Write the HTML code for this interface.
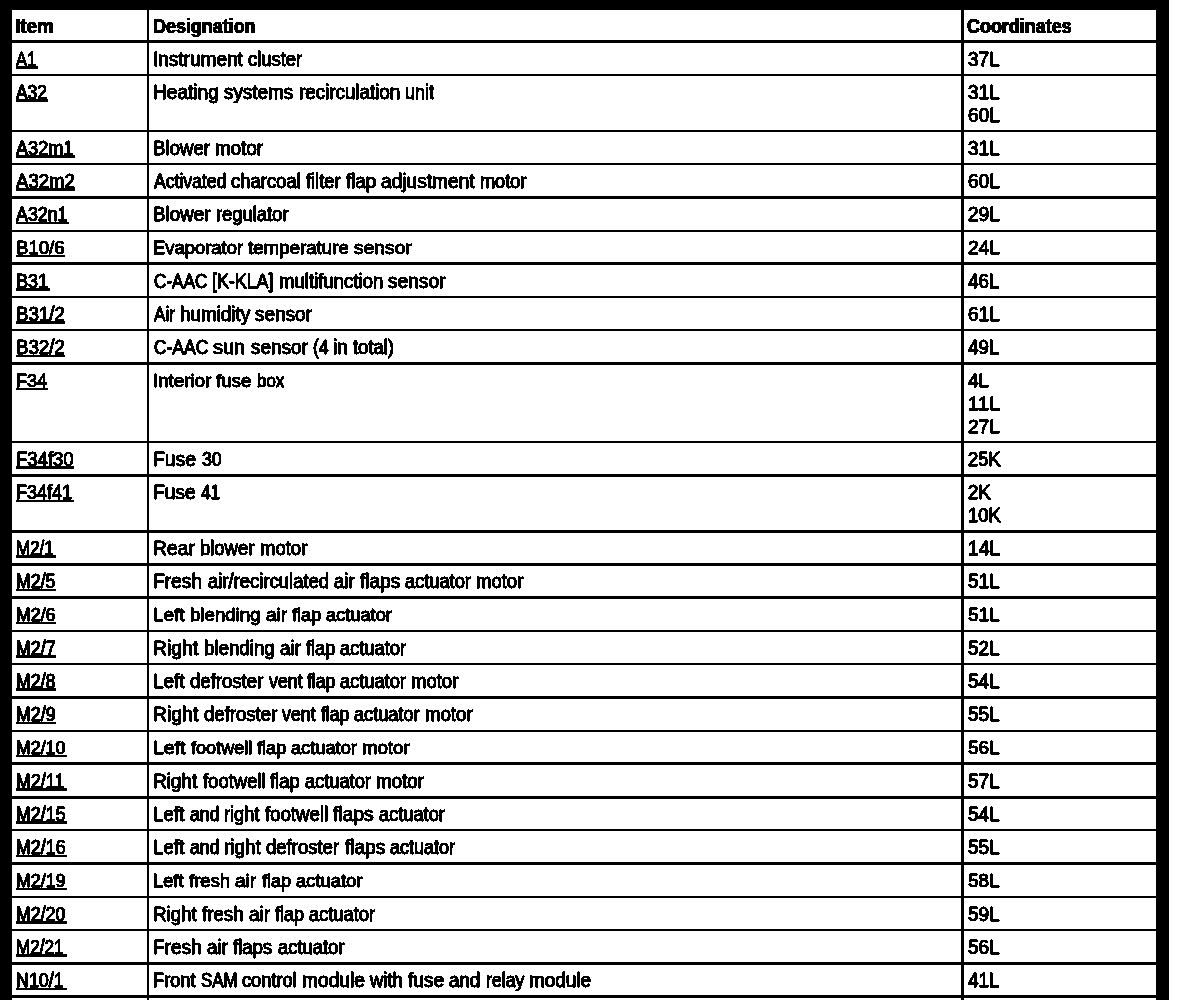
<!DOCTYPE html>
<html><head><meta charset="utf-8"><title>Table</title>
<style>
html,body{margin:0;padding:0;background:#fff;}
body{width:1184px;height:1000px;position:relative;overflow:hidden;font-family:"Liberation Sans",sans-serif;color:#000;}
.k{position:absolute;background:#000;}
.t{position:absolute;white-space:nowrap;font-size:20.5px;line-height:normal;transform-origin:0 0;-webkit-text-stroke:0.95px #000;text-shadow:0.2px 0 0 #000,-0.2px 0 0 #000,0 -0.45px 0 #000,0.2px -0.45px 0 #000,-0.2px -0.45px 0 #000;}
#pg{position:absolute;left:0;top:0;width:1184px;height:1000px;background:#fff;filter:url(#bin);}
.h{font-weight:bold;-webkit-text-stroke:0.4px #000;text-shadow:0.3px 0 0 #000,-0.3px 0 0 #000,0 -0.25px 0 #000,0.3px -0.25px 0 #000,-0.3px -0.25px 0 #000;}
.tt{transform-origin:0 19px;}
</style></head><body>
<svg width="0" height="0" style="position:absolute"><filter id="bin" x="0" y="0" width="100%" height="100%" color-interpolation-filters="sRGB"><feColorMatrix type="matrix" values="0.33 0.34 0.33 0 0 0.33 0.34 0.33 0 0 0.33 0.34 0.33 0 0 0 0 0 1 0"/><feComponentTransfer><feFuncR type="discrete" tableValues="0 0 0 0 0 0 0 0 0 0 0 1 1 1 1 1 1 1 1 1"/><feFuncG type="discrete" tableValues="0 0 0 0 0 0 0 0 0 0 0 1 1 1 1 1 1 1 1 1"/><feFuncB type="discrete" tableValues="0 0 0 0 0 0 0 0 0 0 0 1 1 1 1 1 1 1 1 1"/></feComponentTransfer></filter></svg>
<div id="pg">

<div class="k" style="left:0;top:0;width:1169px;height:10px"></div>
<div class="k" style="left:0;top:0;width:12px;height:1000px"></div>
<div class="k" style="left:1156px;top:0;width:13px;height:1000px"></div>
<div class="k" style="left:147px;top:10px;width:2px;height:990px"></div>
<div class="k" style="left:961px;top:10px;width:3px;height:990px"></div>
<div class="k" style="left:12px;top:40px;width:1145px;height:3px"></div>
<div class="k" style="left:12px;top:74px;width:1145px;height:2px"></div>
<div class="k" style="left:12px;top:130px;width:1145px;height:2px"></div>
<div class="k" style="left:12px;top:163px;width:1145px;height:2px"></div>
<div class="k" style="left:12px;top:196px;width:1145px;height:3px"></div>
<div class="k" style="left:12px;top:230px;width:1145px;height:2px"></div>
<div class="k" style="left:12px;top:262px;width:1145px;height:3px"></div>
<div class="k" style="left:12px;top:296px;width:1145px;height:2px"></div>
<div class="k" style="left:12px;top:329px;width:1145px;height:2px"></div>
<div class="k" style="left:12px;top:362px;width:1145px;height:3px"></div>
<div class="k" style="left:12px;top:441px;width:1145px;height:2px"></div>
<div class="k" style="left:12px;top:474px;width:1145px;height:3px"></div>
<div class="k" style="left:12px;top:530px;width:1145px;height:3px"></div>
<div class="k" style="left:12px;top:563px;width:1145px;height:3px"></div>
<div class="k" style="left:12px;top:596px;width:1145px;height:3px"></div>
<div class="k" style="left:12px;top:630px;width:1145px;height:2px"></div>
<div class="k" style="left:12px;top:663px;width:1145px;height:2px"></div>
<div class="k" style="left:12px;top:696px;width:1145px;height:3px"></div>
<div class="k" style="left:12px;top:730px;width:1145px;height:2px"></div>
<div class="k" style="left:12px;top:762px;width:1145px;height:3px"></div>
<div class="k" style="left:12px;top:796px;width:1145px;height:3px"></div>
<div class="k" style="left:12px;top:829px;width:1145px;height:2px"></div>
<div class="k" style="left:12px;top:862px;width:1145px;height:3px"></div>
<div class="k" style="left:12px;top:896px;width:1145px;height:2px"></div>
<div class="k" style="left:12px;top:929px;width:1145px;height:2px"></div>
<div class="k" style="left:12px;top:962px;width:1145px;height:3px"></div>
<div class="k" style="left:12px;top:995px;width:1145px;height:3px"></div>
<div class="t tt h" style="left:15.08px;top:13.75px;transform:scale(0.9168,1.0001)">Item</div>
<div class="t tt h" style="left:152.88px;top:13.75px;transform:scale(0.8742,1.0001)">Designation</div>
<div class="t tt h" style="left:967.46px;top:13.75px;transform:scale(0.8751,1.0001)">Coordinates</div>
<div class="t tt" style="left:16.40px;top:46.75px;transform:scale(0.8000,1.0001)">A1</div>
<div class="k" style="left:16px;top:66px;width:21.50px;height:3px"></div>
<div class="t tt" style="left:152.96px;top:46.75px;transform:scale(0.9278,1.0001)">Instrument</div>
<div class="t tt" style="left:248.15px;top:46.75px;transform:scale(0.8950,1.0001)">cluster</div>
<div class="t tt" style="left:967.97px;top:46.75px;transform:scale(0.9215,1.0001)">37L</div>
<div class="t tt" style="left:16.42px;top:79.75px;transform:scale(0.8493,1.0001)">A32</div>
<div class="k" style="left:16px;top:99px;width:31.80px;height:3px"></div>
<div class="t tt" style="left:153.18px;top:79.75px;transform:scale(0.9320,1.0001)">Heating</div>
<div class="t tt" style="left:224.35px;top:79.75px;transform:scale(0.9212,1.0001)">systems</div>
<div class="t tt" style="left:298.93px;top:79.75px;transform:scale(0.9157,1.0001)">recirculation</div>
<div class="t tt" style="left:405.44px;top:79.75px;transform:scale(0.8763,1.0001)">unit</div>
<div class="t tt" style="left:967.97px;top:79.75px;transform:scale(0.9215,1.0001)">31L</div>
<div class="t tt" style="left:967.74px;top:102.75px;transform:scale(0.9284,1.0001)">60L</div>
<div class="t tt" style="left:16.44px;top:135.75px;transform:scale(0.8846,1.0001)">A32m1</div>
<div class="k" style="left:16px;top:155px;width:59.00px;height:3px"></div>
<div class="t tt" style="left:153.21px;top:135.75px;transform:scale(0.9090,1.0001)">Blower</div>
<div class="t tt" style="left:215.41px;top:135.75px;transform:scale(0.9169,1.0001)">motor</div>
<div class="t tt" style="left:967.97px;top:135.75px;transform:scale(0.9215,1.0001)">31L</div>
<div class="t tt" style="left:16.45px;top:168.75px;transform:scale(0.9077,1.0001)">A32m2</div>
<div class="k" style="left:16px;top:188px;width:59.00px;height:3px"></div>
<div class="t tt" style="left:154.03px;top:168.75px;transform:scale(0.8589,1.0001)">Activated</div>
<div class="t tt" style="left:231.40px;top:168.75px;transform:scale(0.9011,1.0001)">charcoal</div>
<div class="t tt" style="left:306.32px;top:168.75px;transform:scale(0.8898,1.0001)">filter</div>
<div class="t tt" style="left:345.83px;top:168.75px;transform:scale(0.9103,1.0001)">flap</div>
<div class="t tt" style="left:381.13px;top:168.75px;transform:scale(0.9334,1.0001)">adjustment</div>
<div class="t tt" style="left:480.14px;top:168.75px;transform:scale(0.8831,1.0001)">motor</div>
<div class="t tt" style="left:967.74px;top:168.75px;transform:scale(0.9284,1.0001)">60L</div>
<div class="t tt" style="left:16.43px;top:201.75px;transform:scale(0.8692,1.0001)">A32n1</div>
<div class="k" style="left:16px;top:222px;width:52.75px;height:2px"></div>
<div class="t tt" style="left:153.20px;top:201.75px;transform:scale(0.9165,1.0001)">Blower</div>
<div class="t tt" style="left:215.95px;top:201.75px;transform:scale(0.8963,1.0001)">regulator</div>
<div class="t tt" style="left:967.74px;top:201.75px;transform:scale(0.9284,1.0001)">29L</div>
<div class="t tt" style="left:15.77px;top:234.75px;transform:scale(0.9058,0.9300)">B10/6</div>
<div class="k" style="left:16px;top:255px;width:49.00px;height:2px"></div>
<div class="t tt" style="left:153.23px;top:234.75px;transform:scale(0.8976,0.9300)">Evaporator</div>
<div class="t tt" style="left:248.33px;top:234.75px;transform:scale(0.9122,0.9300)">temperature</div>
<div class="t tt" style="left:354.35px;top:234.75px;transform:scale(0.9385,0.9300)">sensor</div>
<div class="t tt" style="left:967.74px;top:234.75px;transform:scale(0.9284,0.9300)">24L</div>
<div class="t tt" style="left:15.81px;top:268.75px;transform:scale(0.8734,1.0001)">B31</div>
<div class="k" style="left:16px;top:288px;width:34.00px;height:3px"></div>
<div class="t tt" style="left:153.93px;top:268.75px;transform:scale(0.8372,1.0001)">C-AAC</div>
<div class="t tt" style="left:212.23px;top:268.75px;transform:scale(0.8695,1.0001)">[K-KLA]</div>
<div class="t tt" style="left:278.67px;top:268.75px;transform:scale(0.9060,1.0001)">multifunction</div>
<div class="t tt" style="left:388.10px;top:268.75px;transform:scale(0.9344,1.0001)">sensor</div>
<div class="t tt" style="left:968.20px;top:268.75px;transform:scale(0.9147,1.0001)">46L</div>
<div class="t tt" style="left:15.76px;top:301.75px;transform:scale(0.9101,1.0001)">B31/2</div>
<div class="k" style="left:16px;top:321px;width:49.00px;height:3px"></div>
<div class="t tt" style="left:154.02px;top:301.75px;transform:scale(0.8320,1.0001)">Air</div>
<div class="t tt" style="left:179.68px;top:301.75px;transform:scale(0.9194,1.0001)">humidity</div>
<div class="t tt" style="left:255.10px;top:301.75px;transform:scale(0.9263,1.0001)">sensor</div>
<div class="t tt" style="left:967.74px;top:301.75px;transform:scale(0.9284,1.0001)">61L</div>
<div class="t tt" style="left:15.76px;top:334.75px;transform:scale(0.9101,1.0001)">B32/2</div>
<div class="k" style="left:16px;top:355px;width:49.00px;height:2px"></div>
<div class="t tt" style="left:153.92px;top:334.75px;transform:scale(0.8517,1.0001)">C-AAC</div>
<div class="t tt" style="left:213.10px;top:334.75px;transform:scale(0.9678,1.0001)">sun</div>
<div class="t tt" style="left:250.60px;top:334.75px;transform:scale(0.9260,1.0001)">sensor</div>
<div class="t tt" style="left:312.96px;top:334.75px;transform:scale(0.8523,1.0001)">(4</div>
<div class="t tt" style="left:333.43px;top:334.75px;transform:scale(0.9200,1.0001)">in</div>
<div class="t tt" style="left:353.32px;top:334.75px;transform:scale(0.8989,1.0001)">total)</div>
<div class="t tt" style="left:968.20px;top:334.75px;transform:scale(0.9147,1.0001)">49L</div>
<div class="t tt" style="left:15.80px;top:367.75px;transform:scale(0.8824,0.9300)">F34</div>
<div class="k" style="left:16px;top:388px;width:32.10px;height:2px"></div>
<div class="t tt" style="left:152.98px;top:367.75px;transform:scale(0.9118,0.9300)">Interior</div>
<div class="t tt" style="left:216.33px;top:367.75px;transform:scale(0.9118,0.9300)">fuse</div>
<div class="t tt" style="left:256.98px;top:367.75px;transform:scale(0.8242,0.9300)">box</div>
<div class="t tt" style="left:968.20px;top:367.75px;transform:scale(0.9156,0.9300)">4L</div>
<div class="t tt" style="left:968.02px;top:390.75px;transform:scale(0.9841,0.9300)">11L</div>
<div class="t tt" style="left:967.74px;top:413.75px;transform:scale(0.9284,0.9300)">27L</div>
<div class="t tt" style="left:15.77px;top:446.75px;transform:scale(0.9028,1.0001)">F34f30</div>
<div class="k" style="left:16px;top:466px;width:58.00px;height:3px"></div>
<div class="t tt" style="left:153.17px;top:446.75px;transform:scale(0.9446,1.0001)">Fuse</div>
<div class="t tt" style="left:201.63px;top:446.75px;transform:scale(0.8629,1.0001)">30</div>
<div class="t tt" style="left:967.76px;top:446.75px;transform:scale(0.8898,1.0001)">25K</div>
<div class="t tt" style="left:15.80px;top:479.75px;transform:scale(0.8766,1.0001)">F34f41</div>
<div class="k" style="left:16px;top:500px;width:57.75px;height:2px"></div>
<div class="t tt" style="left:153.18px;top:479.75px;transform:scale(0.9346,1.0001)">Fuse</div>
<div class="t tt" style="left:201.10px;top:479.75px;transform:scale(0.8404,1.0001)">41</div>
<div class="t tt" style="left:967.75px;top:479.75px;transform:scale(0.8990,1.0001)">2K</div>
<div class="t tt" style="left:968.10px;top:502.75px;transform:scale(0.8993,1.0001)">10K</div>
<div class="t tt" style="left:15.87px;top:535.75px;transform:scale(0.8274,1.0001)">M2/1</div>
<div class="k" style="left:16px;top:555px;width:40.00px;height:3px"></div>
<div class="t tt" style="left:153.17px;top:535.75px;transform:scale(0.9411,1.0001)">Rear</div>
<div class="t tt" style="left:200.43px;top:535.75px;transform:scale(0.8992,1.0001)">blower</div>
<div class="t tt" style="left:259.92px;top:535.75px;transform:scale(0.9024,1.0001)">motor</div>
<div class="t tt" style="left:968.06px;top:535.75px;transform:scale(0.9394,1.0001)">14L</div>
<div class="t tt" style="left:15.82px;top:568.75px;transform:scale(0.8659,1.0001)">M2/5</div>
<div class="k" style="left:16px;top:589px;width:40.00px;height:2px"></div>
<div class="t tt" style="left:153.18px;top:568.75px;transform:scale(0.9367,1.0001)">Fresh</div>
<div class="t tt" style="left:207.65px;top:568.75px;transform:scale(0.9006,1.0001)">air/recirculated</div>
<div class="t tt" style="left:333.90px;top:568.75px;transform:scale(0.9025,1.0001)">air</div>
<div class="t tt" style="left:359.58px;top:568.75px;transform:scale(0.9290,1.0001)">flaps</div>
<div class="t tt" style="left:405.16px;top:568.75px;transform:scale(0.8894,1.0001)">actuator</div>
<div class="t tt" style="left:476.17px;top:568.75px;transform:scale(0.9024,1.0001)">motor</div>
<div class="t tt" style="left:967.97px;top:568.75px;transform:scale(0.9215,1.0001)">51L</div>
<div class="t tt" style="left:15.82px;top:601.75px;transform:scale(0.8659,0.9300)">M2/6</div>
<div class="k" style="left:16px;top:622px;width:40.00px;height:2px"></div>
<div class="t tt" style="left:153.20px;top:601.75px;transform:scale(0.9188,0.9300)">Left</div>
<div class="t tt" style="left:189.92px;top:601.75px;transform:scale(0.9095,0.9300)">blending</div>
<div class="t tt" style="left:265.64px;top:601.75px;transform:scale(0.9293,0.9300)">air</div>
<div class="t tt" style="left:292.07px;top:601.75px;transform:scale(0.8847,0.9300)">flap</div>
<div class="t tt" style="left:326.41px;top:601.75px;transform:scale(0.8888,0.9300)">actuator</div>
<div class="t tt" style="left:967.97px;top:601.75px;transform:scale(0.9215,0.9300)">51L</div>
<div class="t tt" style="left:15.81px;top:635.75px;transform:scale(0.8709,1.0001)">M2/7</div>
<div class="k" style="left:16px;top:655px;width:40.00px;height:3px"></div>
<div class="t tt" style="left:153.17px;top:635.75px;transform:scale(0.9416,1.0001)">Right</div>
<div class="t tt" style="left:203.67px;top:635.75px;transform:scale(0.9126,1.0001)">blending</div>
<div class="t tt" style="left:279.64px;top:635.75px;transform:scale(0.9204,1.0001)">air</div>
<div class="t tt" style="left:305.82px;top:635.75px;transform:scale(0.8847,1.0001)">flap</div>
<div class="t tt" style="left:340.15px;top:635.75px;transform:scale(0.8908,1.0001)">actuator</div>
<div class="t tt" style="left:967.97px;top:635.75px;transform:scale(0.9215,1.0001)">52L</div>
<div class="t tt" style="left:15.82px;top:668.75px;transform:scale(0.8659,1.0001)">M2/8</div>
<div class="k" style="left:16px;top:688px;width:40.00px;height:3px"></div>
<div class="t tt" style="left:153.19px;top:668.75px;transform:scale(0.9252,1.0001)">Left</div>
<div class="t tt" style="left:190.15px;top:668.75px;transform:scale(0.9060,1.0001)">defroster</div>
<div class="t tt" style="left:268.53px;top:668.75px;transform:scale(0.8678,1.0001)">vent</div>
<div class="t tt" style="left:307.06px;top:668.75px;transform:scale(0.8526,1.0001)">flap</div>
<div class="t tt" style="left:340.16px;top:668.75px;transform:scale(0.8894,1.0001)">actuator</div>
<div class="t tt" style="left:411.17px;top:668.75px;transform:scale(0.9024,1.0001)">motor</div>
<div class="t tt" style="left:967.97px;top:668.75px;transform:scale(0.9215,1.0001)">54L</div>
<div class="t tt" style="left:15.81px;top:701.75px;transform:scale(0.8709,1.0001)">M2/9</div>
<div class="k" style="left:16px;top:722px;width:40.00px;height:2px"></div>
<div class="t tt" style="left:153.17px;top:701.75px;transform:scale(0.9464,1.0001)">Right</div>
<div class="t tt" style="left:203.90px;top:701.75px;transform:scale(0.9060,1.0001)">defroster</div>
<div class="t tt" style="left:282.28px;top:701.75px;transform:scale(0.8678,1.0001)">vent</div>
<div class="t tt" style="left:320.81px;top:701.75px;transform:scale(0.8526,1.0001)">flap</div>
<div class="t tt" style="left:353.91px;top:701.75px;transform:scale(0.8843,1.0001)">actuator</div>
<div class="t tt" style="left:424.52px;top:701.75px;transform:scale(0.9082,1.0001)">motor</div>
<div class="t tt" style="left:967.97px;top:701.75px;transform:scale(0.9215,1.0001)">55L</div>
<div class="t tt" style="left:15.82px;top:734.75px;transform:scale(0.8667,0.9300)">M2/10</div>
<div class="k" style="left:16px;top:755px;width:50.90px;height:2px"></div>
<div class="t tt" style="left:153.17px;top:734.75px;transform:scale(0.9446,0.9300)">Left</div>
<div class="t tt" style="left:190.82px;top:734.75px;transform:scale(0.8813,0.9300)">footwell</div>
<div class="t tt" style="left:257.07px;top:734.75px;transform:scale(0.8847,0.9300)">flap</div>
<div class="t tt" style="left:291.41px;top:734.75px;transform:scale(0.8894,0.9300)">actuator</div>
<div class="t tt" style="left:362.42px;top:734.75px;transform:scale(0.9082,0.9300)">motor</div>
<div class="t tt" style="left:967.97px;top:734.75px;transform:scale(0.9215,0.9300)">56L</div>
<div class="t tt" style="left:15.81px;top:768.75px;transform:scale(0.8716,1.0001)">M2/11</div>
<div class="k" style="left:16px;top:788px;width:50.90px;height:3px"></div>
<div class="t tt" style="left:153.20px;top:768.75px;transform:scale(0.9225,1.0001)">Right</div>
<div class="t tt" style="left:202.58px;top:768.75px;transform:scale(0.9012,1.0001)">footwell</div>
<div class="t tt" style="left:270.32px;top:768.75px;transform:scale(0.8975,1.0001)">flap</div>
<div class="t tt" style="left:305.16px;top:768.75px;transform:scale(0.8894,1.0001)">actuator</div>
<div class="t tt" style="left:376.17px;top:768.75px;transform:scale(0.9130,1.0001)">motor</div>
<div class="t tt" style="left:967.97px;top:768.75px;transform:scale(0.9215,1.0001)">57L</div>
<div class="t tt" style="left:15.81px;top:801.75px;transform:scale(0.8706,1.0001)">M2/15</div>
<div class="k" style="left:16px;top:821px;width:50.90px;height:3px"></div>
<div class="t tt" style="left:153.21px;top:801.75px;transform:scale(0.9123,1.0001)">Left</div>
<div class="t tt" style="left:189.67px;top:801.75px;transform:scale(0.8630,1.0001)">and</div>
<div class="t tt" style="left:224.21px;top:801.75px;transform:scale(0.8862,1.0001)">right</div>
<div class="t tt" style="left:264.58px;top:801.75px;transform:scale(0.9078,1.0001)">footwell</div>
<div class="t tt" style="left:332.83px;top:801.75px;transform:scale(0.9391,1.0001)">flaps</div>
<div class="t tt" style="left:378.91px;top:801.75px;transform:scale(0.8888,1.0001)">actuator</div>
<div class="t tt" style="left:967.97px;top:801.75px;transform:scale(0.9215,1.0001)">54L</div>
<div class="t tt" style="left:15.81px;top:834.75px;transform:scale(0.8706,1.0001)">M2/16</div>
<div class="k" style="left:16px;top:855px;width:51.00px;height:2px"></div>
<div class="t tt" style="left:153.21px;top:834.75px;transform:scale(0.9123,1.0001)">Left</div>
<div class="t tt" style="left:189.67px;top:834.75px;transform:scale(0.8630,1.0001)">and</div>
<div class="t tt" style="left:224.17px;top:834.75px;transform:scale(0.9254,1.0001)">right</div>
<div class="t tt" style="left:266.40px;top:834.75px;transform:scale(0.9031,1.0001)">defroster</div>
<div class="t tt" style="left:344.58px;top:834.75px;transform:scale(0.9290,1.0001)">flaps</div>
<div class="t tt" style="left:390.16px;top:834.75px;transform:scale(0.8773,1.0001)">actuator</div>
<div class="t tt" style="left:967.97px;top:834.75px;transform:scale(0.9215,1.0001)">55L</div>
<div class="t tt" style="left:15.81px;top:867.75px;transform:scale(0.8706,0.9300)">M2/19</div>
<div class="k" style="left:16px;top:888px;width:51.00px;height:2px"></div>
<div class="t tt" style="left:153.23px;top:867.75px;transform:scale(0.8929,0.9300)">Left</div>
<div class="t tt" style="left:188.83px;top:867.75px;transform:scale(0.9026,0.9300)">fresh</div>
<div class="t tt" style="left:235.14px;top:867.75px;transform:scale(0.9293,0.9300)">air</div>
<div class="t tt" style="left:261.57px;top:867.75px;transform:scale(0.8783,0.9300)">flap</div>
<div class="t tt" style="left:295.65px;top:867.75px;transform:scale(0.8976,0.9300)">actuator</div>
<div class="t tt" style="left:967.97px;top:867.75px;transform:scale(0.9215,0.9300)">58L</div>
<div class="t tt" style="left:15.82px;top:901.75px;transform:scale(0.8667,1.0001)">M2/20</div>
<div class="k" style="left:16px;top:921px;width:51.00px;height:3px"></div>
<div class="t tt" style="left:153.21px;top:901.75px;transform:scale(0.9130,1.0001)">Right</div>
<div class="t tt" style="left:202.08px;top:901.75px;transform:scale(0.9123,1.0001)">fresh</div>
<div class="t tt" style="left:248.89px;top:901.75px;transform:scale(0.9293,1.0001)">air</div>
<div class="t tt" style="left:275.32px;top:901.75px;transform:scale(0.8783,1.0001)">flap</div>
<div class="t tt" style="left:309.40px;top:901.75px;transform:scale(0.8908,1.0001)">actuator</div>
<div class="t tt" style="left:967.97px;top:901.75px;transform:scale(0.9215,1.0001)">59L</div>
<div class="t tt" style="left:15.86px;top:934.75px;transform:scale(0.8344,1.0001)">M2/21</div>
<div class="k" style="left:16px;top:954px;width:51.00px;height:3px"></div>
<div class="t tt" style="left:153.19px;top:934.75px;transform:scale(0.9279,1.0001)">Fresh</div>
<div class="t tt" style="left:207.14px;top:934.75px;transform:scale(0.9204,1.0001)">air</div>
<div class="t tt" style="left:233.33px;top:934.75px;transform:scale(0.9036,1.0001)">flaps</div>
<div class="t tt" style="left:277.65px;top:934.75px;transform:scale(0.8976,1.0001)">actuator</div>
<div class="t tt" style="left:967.97px;top:934.75px;transform:scale(0.9215,1.0001)">56L</div>
<div class="t tt" style="left:15.91px;top:967.75px;transform:scale(0.8717,1.0001)">N10/1</div>
<div class="k" style="left:16px;top:988px;width:51.00px;height:2px"></div>
<div class="t tt" style="left:153.24px;top:967.75px;transform:scale(0.8892,1.0001)">Front</div>
<div class="t tt" style="left:200.94px;top:967.75px;transform:scale(0.8213,1.0001)">SAM</div>
<div class="t tt" style="left:242.16px;top:967.75px;transform:scale(0.8880,1.0001)">control</div>
<div class="t tt" style="left:301.90px;top:967.75px;transform:scale(0.9351,1.0001)">module</div>
<div class="t tt" style="left:370.05px;top:967.75px;transform:scale(0.8968,1.0001)">with</div>
<div class="t tt" style="left:407.83px;top:967.75px;transform:scale(0.9330,1.0001)">fuse</div>
<div class="t tt" style="left:449.34px;top:967.75px;transform:scale(0.9112,1.0001)">and</div>
<div class="t tt" style="left:485.84px;top:967.75px;transform:scale(0.8641,1.0001)">relay</div>
<div class="t tt" style="left:529.21px;top:967.75px;transform:scale(0.9242,1.0001)">module</div>
<div class="t tt" style="left:968.20px;top:967.75px;transform:scale(0.9147,1.0001)">41L</div>
</div></body></html>
